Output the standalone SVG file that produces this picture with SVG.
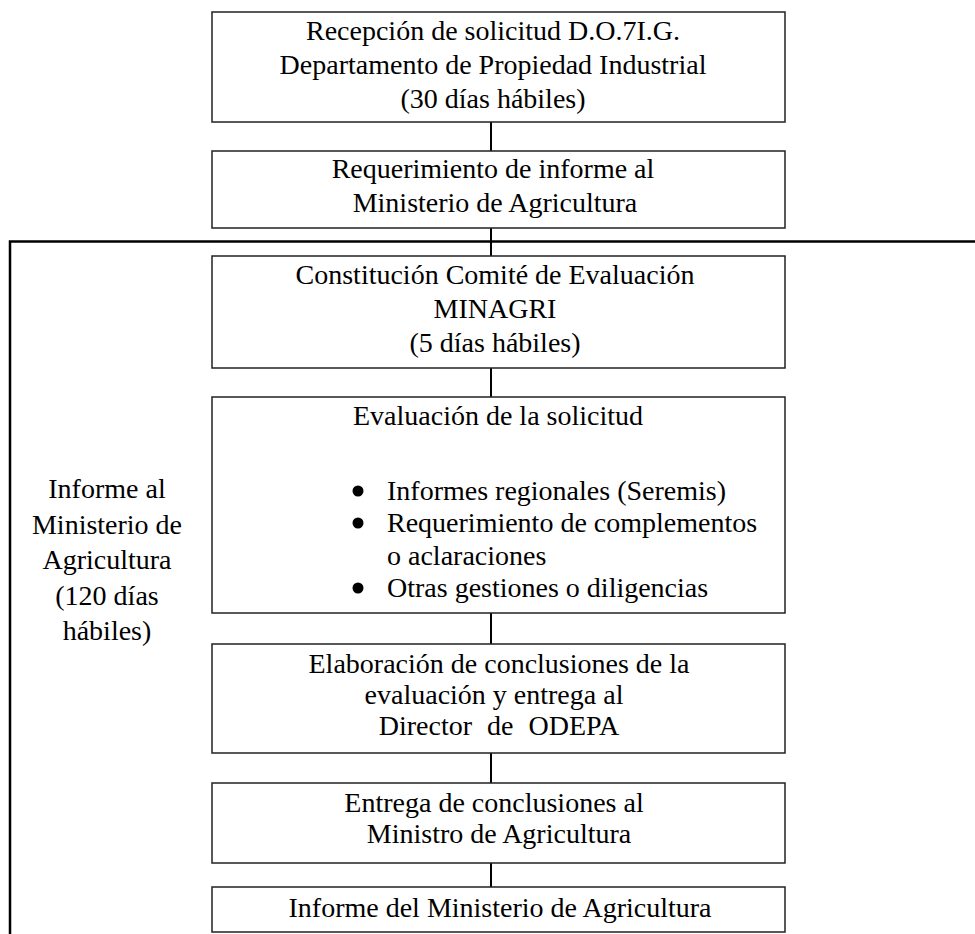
<svg xmlns="http://www.w3.org/2000/svg" width="975" height="934" viewBox="0 0 975 934">
<style>
.box{fill:#fff;stroke:#222;stroke-width:1.5}
.t{font-family:"Liberation Serif","Times New Roman",serif;font-size:28px;fill:#000}
.c{text-anchor:middle}
.conn{stroke:#000;stroke-width:2;fill:none}
.br{stroke:#000;stroke-width:2.5;fill:none}
</style>
<rect width="975" height="934" fill="#fff"/>
<g id="connectors">
<line class="conn" x1="491" y1="122" x2="491" y2="151"/>
<line class="conn" x1="491" y1="228" x2="491" y2="256"/>
<line class="conn" x1="491" y1="368" x2="491" y2="397"/>
<line class="conn" x1="491" y1="613" x2="491" y2="644"/>
<line class="conn" x1="491" y1="753" x2="491" y2="783"/>
<line class="conn" x1="491" y1="863" x2="491" y2="887"/>
</g>
<g id="bracket">
<polyline class="br" points="975,241.5 10,241.5 10,934"/>
<text class="t c"><tspan x="107" y="498">Informe al</tspan><tspan x="107" y="534">Ministerio de</tspan><tspan x="107" y="569">Agricultura</tspan><tspan x="107" y="605">(120 días</tspan><tspan x="107" y="640">hábiles)</tspan></text>
</g>
<g id="n1">
<rect class="box" x="212" y="12" width="573" height="110"/>
<text class="t c"><tspan x="493" y="40">Recepción de solicitud D.O.7I.G.</tspan><tspan x="493" y="74">Departamento de Propiedad Industrial</tspan><tspan x="493" y="108">(30 días hábiles)</tspan></text>
</g>
<g id="n2">
<rect class="box" x="212" y="151" width="573" height="77"/>
<text class="t c"><tspan x="493" y="178">Requerimiento de informe al</tspan><tspan x="495" y="212">Ministerio de Agricultura</tspan></text>
</g>
<g id="n3">
<rect class="box" x="212" y="256" width="573" height="112"/>
<text class="t c"><tspan x="495" y="284">Constitución Comité de Evaluación</tspan><tspan x="495" y="318">MINAGRI</tspan><tspan x="495" y="352">(5 días hábiles)</tspan></text>
</g>
<g id="n4">
<rect class="box" x="212" y="397" width="573" height="216"/>
<text class="t" x="353" y="425">Evaluación de la solicitud</text>
<circle cx="358" cy="491" r="5.5"/>
<circle cx="358" cy="523" r="5.5"/>
<circle cx="358" cy="588" r="5.5"/>
<text class="t"><tspan x="387" y="500">Informes regionales (Seremis)</tspan><tspan x="387" y="532">Requerimiento de complementos</tspan><tspan x="387" y="565">o aclaraciones</tspan><tspan x="387" y="597">Otras gestiones o diligencias</tspan></text>
</g>
<g id="n5">
<rect class="box" x="212" y="644" width="573" height="109"/>
<text class="t c"><tspan x="499" y="673">Elaboración de conclusiones de la</tspan><tspan x="494" y="704">evaluación y entrega al</tspan><tspan x="499" y="735" word-spacing="8">Director de ODEPA</tspan></text>
</g>
<g id="n6">
<rect class="box" x="212" y="783" width="573" height="80"/>
<text class="t c"><tspan x="494" y="812">Entrega de conclusiones al</tspan><tspan x="499" y="843">Ministro de Agricultura</tspan></text>
</g>
<g id="n7">
<rect class="box" x="212" y="887" width="573" height="45"/>
<text class="t c" x="500" y="917">Informe del Ministerio de Agricultura</text>
</g>
</svg>
